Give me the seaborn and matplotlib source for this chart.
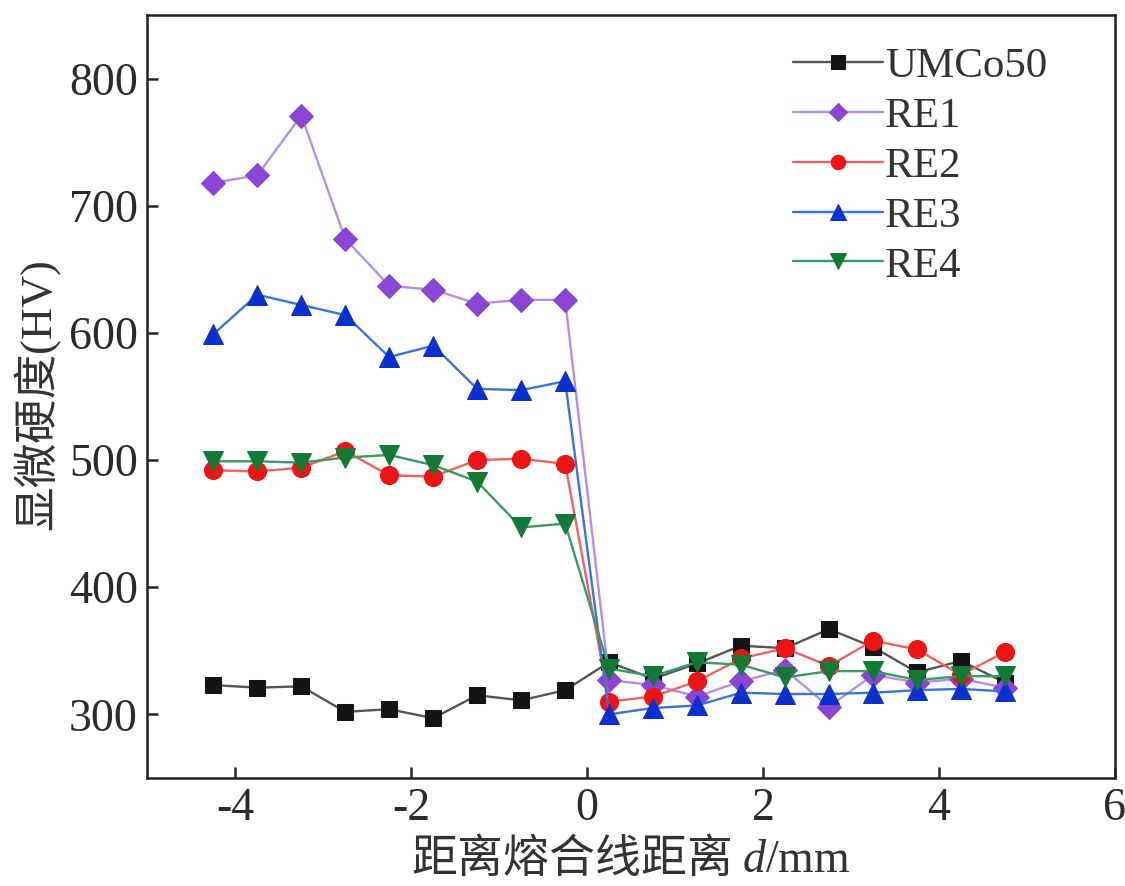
import numpy as np
import pandas as pd
import matplotlib
matplotlib.use('Agg')
import matplotlib.pyplot as plt
import seaborn as sns

# distanza dalla linea di fusione (mm)
dist = [-4.25, -3.75, -3.25, -2.75, -2.25, -1.75, -1.25, -0.75, -0.25,
        0.25, 0.75, 1.25, 1.75, 2.25, 2.75, 3.25, 3.75, 4.25, 4.75]

umco50 = [323, 321, 322, 302, 304, 297, 315, 311, 319,
          341, 328, 340, 354, 352, 367, 353, 333, 342, 325]
re1 = [718, 724, 771, 674, 637, 634, 623, 626, 626,
       327, 323, 314, 326, 335, 306, 331, 325, 328, 321]
re2 = [492, 491, 494, 507, 488, 487, 500, 501, 497,
       310, 314, 326, 344, 352, 338, 358, 351, 331, 349]
re3 = [599, 630, 622, 614, 581, 590, 556, 555, 562,
       300, 305, 307, 317, 316, 316, 317, 319, 320, 318]
re4 = [499, 499, 498, 502, 504, 496, 483, 447, 450,
       336, 330, 341, 339, 329, 334, 334, 327, 330, 330]

series = ['UMCo50', 'RE1', 'RE2', 'RE3', 'RE4']
values = [umco50, re1, re2, re3, re4]
line_colors = ['#555555', '#b58fe3', '#ef6262', '#3f72d6', '#3a9a62']
marker_colors = ['#141414', '#8b45d6', '#ec1414', '#0b30cf', '#127a35']
markers = ['s', 'D', 'o', '^', 'v']
msizes = [12, 12, 13, 14, 14]

sns.set_theme(style='ticks')
plt.rcParams['font.family'] = ['Liberation Serif', 'Noto Sans CJK SC']
plt.rcParams['mathtext.fontset'] = 'custom'
plt.rcParams['mathtext.it'] = 'Liberation Serif:italic'
plt.rcParams['mathtext.rm'] = 'Liberation Serif'
plt.rcParams['axes.unicode_minus'] = False

fig = plt.figure(figsize=(11.25, 8.86), dpi=100)
ax = fig.add_axes([0.131, 0.122, 0.860, 0.861])

for name, vals, lc, mc, mk, ms in zip(series, values, line_colors, marker_colors, markers, msizes):
    df = pd.DataFrame({'d': dist, 'hv': vals})
    sns.lineplot(data=df, x='d', y='hv', ax=ax, color=lc, linewidth=1.7,
                 marker=mk, markersize=ms, markerfacecolor=mc,
                 markeredgecolor=mc, label=name)

ax.set_xlim(-5, 6)
ax.set_ylim(250, 850)
ax.set_xticks([-4, -2, 0, 2, 4, 6])
ax.set_yticks([300, 400, 500, 600, 700, 800])
ax.tick_params(direction='in', length=8, width=1.8, labelsize=33, pad=7)
for s in ax.spines.values():
    s.set_linewidth(1.8)
    s.set_color('#222222')

cjk = ['Noto Sans CJK SC', 'DejaVu Sans']
ax.set_xlabel('距离熔合线距离 $d/\\mathrm{mm}$', fontsize=33,
              family=cjk, labelpad=3, color='#333333')
ax.set_ylabel('显微硬度$\\mathrm{(HV)}$', fontsize=32,
              family=cjk, labelpad=0, color='#333333')
ax.yaxis.set_label_coords(-0.087, 0.50)
for lab in ax.get_xticklabels() + ax.get_yticklabels():
    lab.set_color('#2a2a2a')

leg = ax.legend(loc='upper left', frameon=False, fontsize=31,
                handlelength=2.1, handletextpad=0.05, labelspacing=0.25,
                borderaxespad=0, markerscale=0.8, bbox_to_anchor=(0.649, 0.981))
for t in leg.get_texts():
    t.set_color('#333333')

fig.savefig('out.png', dpi=100)
